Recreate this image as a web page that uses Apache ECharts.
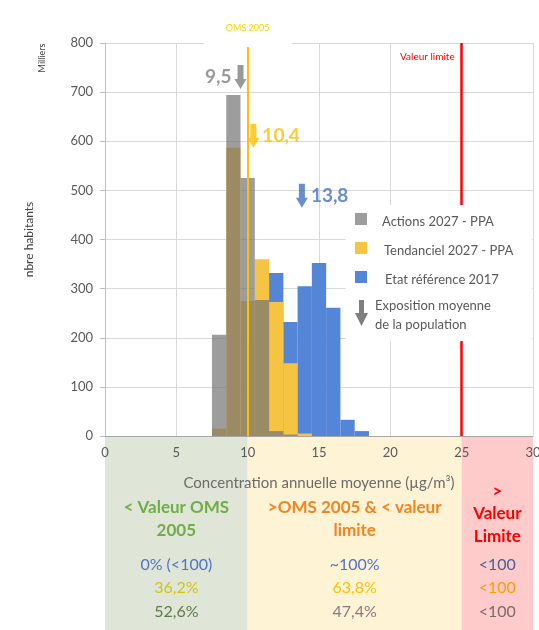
<!DOCTYPE html>
<html>
<head>
<meta charset="utf-8">
<script src="https://cdn.jsdelivr.net/npm/echarts@6/dist/echarts.min.js"></script>
<style>html,body{margin:0;padding:0;background:#fff}#c{width:539px;height:630px}</style>
</head>
<body>
<div id="c"></div>
<script>
// ---- data ----
const binCenters      = [7, 8, 9, 10, 11, 12, 13, 14, 15, 16, 17, 18];
const actions2027     = [0, 206, 694, 525, 277, 10, 3, 0, 0, 0, 0, 0];
const tendanciel2027  = [0, 15, 587, 275, 360, 273, 148, 5, 0, 0, 0, 0];
const etatRef2017     = [0, 0, 0, 5, 180, 332, 232, 305, 352, 261, 33, 10];
const meanExposure    = [9.5, 10.4, 13.8];
const meanArrowLevel  = [731, 611, 489];
const meanLabels      = ['9,5', '10,4', '13,8'];
const seriesNames     = ['Actions 2027 - PPA', 'Tendanciel 2027 - PPA', 'Etat référence 2017'];
const xTicks          = [0, 5, 10, 15, 20, 25, 30];
const yTicks          = [0, 100, 200, 300, 400, 500, 600, 700, 800];
const omsValue        = 10;
const limitValue      = 25;
const zoneHeaders     = [['< Valeur OMS', '2005'], ['>OMS 2005 & < valeur', 'limite'], ['>', 'Valeur', 'Limite']];
const tableRows       = [
  ['0% (<100)', '~100%', '<100'],
  ['36,2%', '63,8%', '<100'],
  ['52,6%', '47,4%', '<100']
];

const FONT = 'Lato';
const cGray = '#7f7f7f', cYellow = '#ffc000', cBlue = '#4472c4';

const pairs = v => binCenters.map((x, i) => [x, v[i]]);

const chart = echarts.init(document.getElementById('c'));
chart.setOption({
  animation: false,
  textStyle: { fontFamily: FONT },
  grid: { left: 105, right: 6, top: 43, bottom: 194, outerBoundsMode: 'none', containLabel: false },
  xAxis: {
    type: 'value', min: xTicks[0], max: xTicks[xTicks.length - 1], interval: 5,
    axisLine: { lineStyle: { color: '#a6a6a6' } },
    axisTick: { show: false },
    axisLabel: { color: '#595959', fontSize: 13, margin: 10 },
    splitLine: { show: true, lineStyle: { color: '#d9d9d9' } },
    name: 'Concentration annuelle moyenne (µg/m³)',
    nameLocation: 'middle', nameGap: 40,
    nameTextStyle: { color: '#6b6b6b', fontSize: 15, fontFamily: FONT }
  },
  yAxis: {
    type: 'value', min: yTicks[0], max: yTicks[yTicks.length - 1], interval: 100,
    axisLine: { show: true, lineStyle: { color: '#bfbfbf' } },
    axisTick: { show: true, length: 5, lineStyle: { color: '#bfbfbf' } },
    axisLabel: { color: '#595959', fontSize: 13, margin: 12 },
    splitLine: { lineStyle: { color: '#d9d9d9' } },
    name: 'nbre habitants', nameLocation: 'middle', nameGap: 70,
    nameTextStyle: { color: '#404040', fontSize: 12, fontFamily: FONT }
  },
  legend: {
    data: seriesNames, orient: 'vertical', left: 350, top: 208,
    icon: 'rect', itemWidth: 12, itemHeight: 12, itemGap: 17,
    formatter: () => '',
    textStyle: { fontSize: 13, color: '#595959', fontFamily: FONT },
    z: 10
  },
  series: [
    {
      name: seriesNames[2], type: 'bar', data: pairs(etatRef2017),
      barWidth: 14.3, barGap: '-100%', itemStyle: { color: '#5585d6' }, color: cBlue
    },
    {
      name: seriesNames[1], type: 'bar', data: pairs(tendanciel2027),
      barWidth: 14.3, barGap: '-100%', itemStyle: { color: '#f5c443' }, color: cYellow,
      markLine: {
        silent: true, symbol: 'none',
        data: [
          { xAxis: omsValue, lineStyle: { color: '#ffc000', width: 2, type: 'solid' },
            label: { show: true, position: 'end', formatter: 'OMS 2005', color: '#ffd400', fontSize: 9,
                     backgroundColor: '#ffffff', padding: [6, 22, 14, 22], distance: -4 } },
          { xAxis: limitValue, lineStyle: { color: '#ff0000', width: 2.5, type: 'solid' }, label: { show: false } }
        ]
      }
    },
    {
      name: seriesNames[0], type: 'bar', data: pairs(actions2027),
      barWidth: 14.3, barGap: '-100%', itemStyle: { color: '#747474', opacity: 0.7 }, color: cGray
    },
    {
      name: 'Exposition moyenne', type: 'scatter',
      symbol: 'path://M3,0L9,0L9,14L12,14L6,24L0,14L3,14Z', symbolSize: [12, 24],
      z: 5,
      data: meanExposure.map((x, i) => {
        const col = [cGray, cYellow, cBlue][i];
        return {
          value: [x, meanArrowLevel[i]],
          itemStyle: { color: col },
          label: { show: true, formatter: meanLabels[i], position: i === 0 ? 'left' : 'right',
                   distance: 3, color: col, fontSize: 19, fontWeight: 'bold', fontFamily: FONT }
        };
      })
    }
  ]
});

// ---- graphics (zones, table, legend extras) ----
const px = v => chart.convertToPixel({ xAxisIndex: 0 }, v);
const x0 = px(0), x10 = px(omsValue), x25 = px(limitValue), x30 = px(30);
const yZoneTop = 437, yZoneBottom = 630;
const colCenters = [(x0 + x10) / 2, (x10 + x25) / 2, (x25 + x30) / 2];
const els = [];
[[x0, x10, '#dfe6d8'], [x10, x25, '#fff3d6'], [x25, x30, '#ffcaca']].forEach(z => {
  els.push({ type: 'rect', z: -10, silent: true,
    shape: { x: z[0], y: yZoneTop, width: z[1] - z[0], height: yZoneBottom - yZoneTop },
    style: { fill: z[2] } });
});
const headerColors = ['#70ad47', '#f5841f', '#ff0000'];
const headerYs = [[508, 531], [508, 531], [492, 514, 537]];
zoneHeaders.forEach((lines, c) => {
  lines.forEach((t, k) => {
    els.push({ type: 'text', z: 20, x: colCenters[c], y: headerYs[c][k],
      style: { text: t, fill: headerColors[c], font: 'bold 17px ' + FONT, textAlign: 'center', textVerticalAlign: 'middle' } });
  });
});
const rowColors = [
  ['#4f74c4', '#4f74c4', '#44609a'],
  ['#d2c21a', '#ffc000', '#ff9d00'],
  ['#5c7a4e', '#8a7a80', '#7a6a6a']
];
const rowYs = [565, 588, 612];
tableRows.forEach((row, r) => {
  row.forEach((t, c) => {
    els.push({ type: 'text', z: 20, x: colCenters[c], y: rowYs[r],
      style: { text: t, fill: rowColors[r][c], font: '16px ' + FONT, textAlign: 'center', textVerticalAlign: 'middle' } });
  });
});
// legend backdrop, entry texts and arrow entry
els.push({ type: 'rect', z: 5, shape: { x: 346, y: 205, width: 186, height: 136 }, style: { fill: '#ffffff' } });
const legendTextX = [382, 384, 385], legendTextY = [222, 251, 280];
seriesNames.forEach((n, i) => {
  els.push({ type: 'text', z: 21, x: legendTextX[i], y: legendTextY[i],
    style: { text: n, fill: '#595959', font: '13px ' + FONT, textVerticalAlign: 'middle' } });
});
els.push({ type: 'polygon', z: 21,
  shape: { points: [[359, 300], [364, 300], [364, 313], [368, 313], [361.5, 326], [355, 313], [359, 313]] },
  style: { fill: cGray } });
els.push({ type: 'text', z: 21, x: 375, y: 306, style: { text: 'Exposition moyenne', fill: '#595959', font: '13px ' + FONT, textVerticalAlign: 'middle' } });
els.push({ type: 'text', z: 21, x: 375, y: 325, style: { text: 'de la population', fill: '#595959', font: '13px ' + FONT, textVerticalAlign: 'middle' } });
// limit label
els.push({ type: 'text', z: 21, x: x25 - 7, y: 57, style: { text: 'Valeur limite', fill: '#ff0000', font: '10px ' + FONT, textAlign: 'right', textVerticalAlign: 'middle' } });
// units label
els.push({ type: 'text', z: 21, x: 42, y: 58, rotation: Math.PI / 2,
  style: { text: 'Milliers', fill: '#404040', font: '9px ' + FONT, textAlign: 'center', textVerticalAlign: 'middle' } });
chart.setOption({ graphic: { elements: els } });
</script>
</body>
</html>
